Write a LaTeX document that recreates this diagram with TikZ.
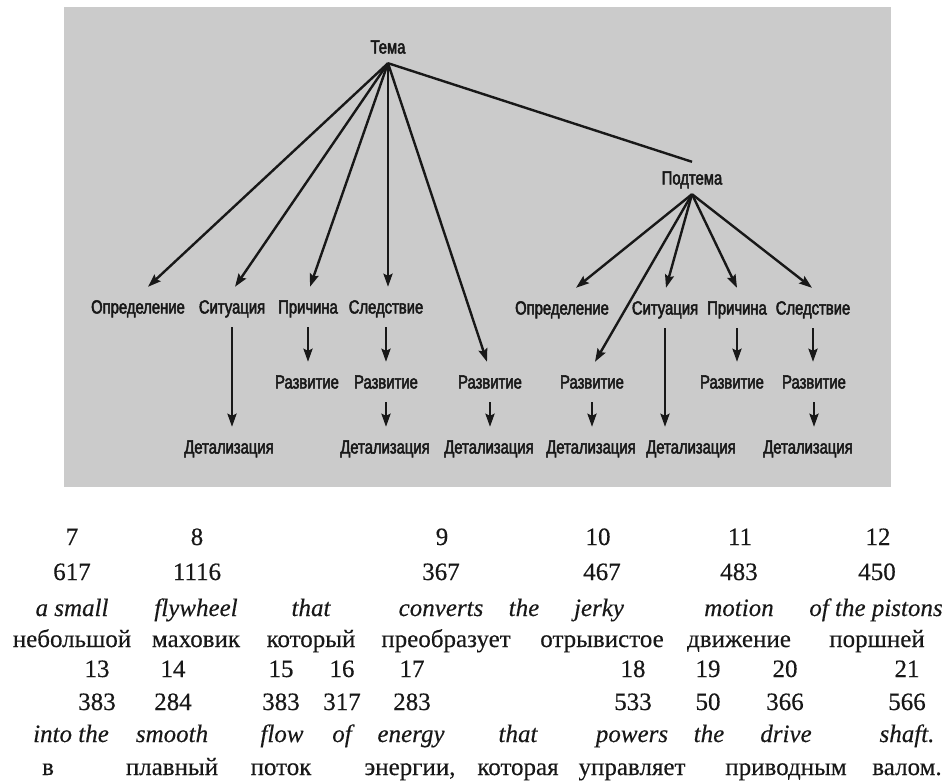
\documentclass[tikz,border=0pt]{standalone}
\usepackage{fontspec}
\setmainfont{Liberation Serif}[FakeBold=0.3]
\newfontfamily\schemefont[FakeStretch=0.78, FakeBold=2.5]{Liberation Sans}
\usetikzlibrary{arrows.meta}

\definecolor{panelgray}{RGB}{203,203,203}
\definecolor{ink}{RGB}{24,24,24}

\begin{document}
\begin{tikzpicture}[x=1pt, y=-1pt,
    topic/.style={font=\schemefont\fontsize{19}{19}\selectfont, text=ink,
        inner sep=0pt, text height=13pt, text depth=0pt, minimum height=32pt},
    part/.style={topic, minimum height=40pt},
    link/.style={line width=2.4pt, draw=ink},
    arr/.style={link, -{Stealth[length=13pt, width=9pt, inset=2pt]}},
    num/.style={font=\fontsize{25}{25}\selectfont, text=ink, anchor=base, inner sep=0pt},
    eng/.style={num, font=\itshape\fontsize{25}{25}\selectfont},
    rus/.style={num}]

        % === Page and grey panel ===
        \useasboundingbox (0,0) rectangle (948,780);
        \fill[white] (0,0) rectangle (948,780);
        \fill[panelgray] (64,7) rectangle (891,487);

        % === Theme and subtheme ===
        \node[topic] (tema)    at (388,47)  {Тема};
        \node[topic] (podtema) at (692,178) {Подтема};

        % Left branch: first row under Тема
        \node[part] (opr-a) at (138,307) {Определение};
        \node[part] (sit-a) at (232,307) {Ситуация};
        \node[part] (pri-a) at (308,307) {Причина};
        \node[part] (sle-a) at (386,307) {Следствие};
        % second and third rows
        \node[part] (raz-a) at (307,382) {Развитие};
        \node[part] (raz-b) at (386,382) {Развитие};
        \node[part] (raz-c) at (490,382) {Развитие};
        \node[part] (det-a) at (229,447) {Детализация};
        \node[part] (det-b) at (385,447) {Детализация};
        \node[part] (det-c) at (489,447) {Детализация};

        % Right branch: first row under Подтема
        \node[part] (opr-b) at (562,308) {Определение};
        \node[part] (sit-b) at (665,308) {Ситуация};
        \node[part] (pri-b) at (737,308) {Причина};
        \node[part] (sle-b) at (813,308) {Следствие};
        % second and third rows
        \node[part] (raz-d) at (592,382) {Развитие};
        \node[part] (raz-e) at (732,382) {Развитие};
        \node[part] (raz-f) at (814,382) {Развитие};
        \node[part] (det-d) at (591,447) {Детализация};
        \node[part] (det-e) at (691,447) {Детализация};
        \node[part] (det-f) at (808,447) {Детализация};

        % === Fan out of Тема ===
        \draw[arr] (tema.south) -- ([xshift=10pt]opr-a.north);
        \draw[arr] (tema.south) -- ([xshift=3pt]sit-a.north);
        \draw[arr] (tema.south) -- ([xshift=2pt]pri-a.north);
        \draw[arr] (tema.south) -- ([xshift=2pt]sle-a.north);
        \draw[arr] (tema.south) -- ([xshift=-3pt]raz-c.north);
        \draw[link] (tema.south) -- (podtema.north);

        % === Fan out of Подтема ===
        \draw[arr] (podtema.south) -- ([xshift=14pt]opr-b.north);
        \draw[arr] (podtema.south) -- ([xshift=3pt]raz-d.north);
        \draw[arr] (podtema.south) -- ([xshift=1pt]sit-b.north);
        \draw[arr] (podtema.south) -- (pri-b.north);
        \draw[arr] (podtema.south) -- ([xshift=-1pt]sle-b.north);

        % === Vertical links down the columns ===
        \draw[arr] (sit-a.south) -- (sit-a.south |- det-a.north);
        \draw[arr] (pri-a.south) -- (pri-a.south |- raz-a.north);
        \draw[arr] (sle-a.south) -- (sle-a.south |- raz-b.north);
        \draw[arr] (raz-b.south) -- (raz-b.south |- det-b.north);
        \draw[arr] (raz-c.south) -- (raz-c.south |- det-c.north);
        \draw[arr] (raz-d.south) -- (raz-d.south |- det-d.north);
        \draw[arr] (sit-b.south) -- (sit-b.south |- det-e.north);
        \draw[arr] (pri-b.south) -- (pri-b.south |- raz-e.north);
        \draw[arr] (sle-b.south) -- (sle-b.south |- raz-f.north);
        \draw[arr] (raz-f.south) -- (raz-f.south |- det-f.north);

        % === Word table, first line: indices 7--12 ===
        \node[num] (idx7)  at (72,545)  {7};
        \node[num] (idx8)  at (197,545) {8};
        \node[num] (idx9)  at (442,545) {9};
        \node[num] (idx10) at (598,545) {10};
        \node[num] (idx11) at (740,545) {11};
        \node[num] (idx12) at (878,545) {12};
        \node[num] (val7)  at (72,580)  {617};
        \node[num] (val8)  at (197,580) {1116};
        \node[num] (val9)  at (441,580) {367};
        \node[num] (val10) at (602,580) {467};
        \node[num] (val11) at (739,580) {483};
        \node[num] (val12) at (877,580) {450};
        \node[eng] (en7)   at (72,616)  {a small};
        \node[eng] (en8)   at (196,616) {flywheel};
        \node[eng] (en-that-a) at (311,616) {that};
        \node[eng] (en9)   at (441,616) {converts};
        \node[eng] (en-the-a)  at (524,616) {the};
        \node[eng] (en10)  at (599,616) {jerky};
        \node[eng] (en11)  at (739,616) {motion};
        \node[eng] (en12)  at (876,616) {of the pistons};
        \node[rus] (ru7)   at (72,647)  {небольшой};
        \node[rus] (ru8)   at (196,647) {маховик};
        \node[rus] (ru-kot-a) at (311,647) {который};
        \node[rus] (ru9)   at (446,647) {преобразует};
        \node[rus] (ru10)  at (602,647) {отрывистое};
        \node[rus] (ru11)  at (739,647) {движение};
        \node[rus] (ru12)  at (877,647) {поршней};

        % === Word table, second line: indices 13--21 ===
        \node[num] (idx13) at (97,677)  {13};
        \node[num] (idx14) at (173,677) {14};
        \node[num] (idx15) at (281,677) {15};
        \node[num] (idx16) at (342,677) {16};
        \node[num] (idx17) at (412,677) {17};
        \node[num] (idx18) at (633,677) {18};
        \node[num] (idx19) at (708,677) {19};
        \node[num] (idx20) at (785,677) {20};
        \node[num] (idx21) at (907,677) {21};
        \node[num] (val13) at (97,710)  {383};
        \node[num] (val14) at (173,710) {284};
        \node[num] (val15) at (281,710) {383};
        \node[num] (val16) at (342,710) {317};
        \node[num] (val17) at (412,710) {283};
        \node[num] (val18) at (633,710) {533};
        \node[num] (val19) at (708,710) {50};
        \node[num] (val20) at (785,710) {366};
        \node[num] (val21) at (907,710) {566};
        \node[eng] (en13)  at (71,742)  {into the};
        \node[eng] (en14)  at (172,742) {smooth};
        \node[eng] (en15)  at (282,742) {flow};
        \node[eng] (en16)  at (342,742) {of};
        \node[eng] (en17)  at (411,742) {energy};
        \node[eng] (en-that-b) at (518,742) {that};
        \node[eng] (en18)  at (632,742) {powers};
        \node[eng] (en19)  at (709,742) {the};
        \node[eng] (en20)  at (786,742) {drive};
        \node[eng] (en21)  at (907,742) {shaft.};
        \node[rus] (ru13)  at (48,775)  {в};
        \node[rus] (ru14)  at (172,775) {плавный};
        \node[rus] (ru15)  at (281,775) {поток};
        \node[rus] (ru17)  at (410,775) {энергии,};
        \node[rus] (ru-kot-b) at (518,775) {которая};
        \node[rus] (ru18)  at (632,775) {управляет};
        \node[rus] (ru20)  at (786,775) {приводным};
        \node[rus] (ru21)  at (907,775) {валом.};

    \end{tikzpicture}
\end{document}
